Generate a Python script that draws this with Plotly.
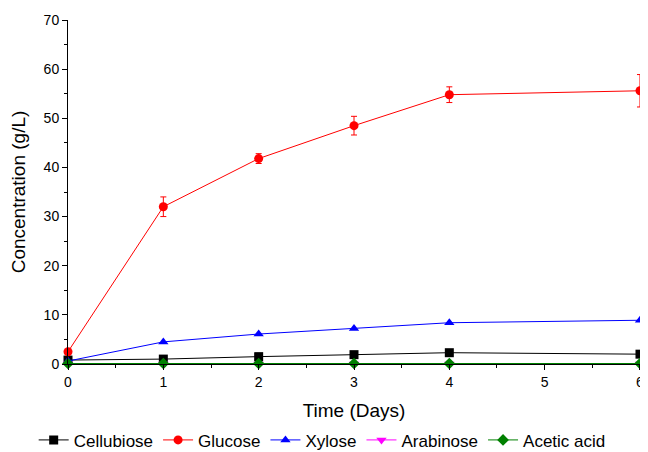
import plotly.graph_objects as go

days = [0, 1, 2, 3, 4, 6]
cellobiose = [0.8, 1.0, 1.5, 1.9, 2.3, 2.0]
glucose = [2.5, 32.0, 41.8, 48.5, 54.8, 55.6]
glucose_err = [0.3, 2.0, 1.0, 1.9, 1.6, 3.3]
xylose = [0.6, 4.5, 6.1, 7.2, 8.4, 8.9]
arabinose = [0.0, 0.0, 0.0, 0.0, 0.0, 0.0]
acetic = [0.1, 0.1, 0.1, 0.1, 0.1, 0.1]

fig = go.Figure()
series = [
    ("Cellubiose", cellobiose, "black", "square", None),
    ("Glucose", glucose, "red", "circle", glucose_err),
    ("Xylose", xylose, "blue", "triangle-up", None),
    ("Arabinose", arabinose, "magenta", "triangle-down", None),
    ("Acetic acid", acetic, "green", "diamond", None),
]
for name, vals, col, sym, err in series:
    fig.add_trace(go.Scatter(
        x=days, y=vals, name=name, mode="lines+markers",
        line=dict(color=col, width=1),
        marker=dict(symbol=sym, size=9, color=col),
        error_y=dict(type="data", array=err, color=col, thickness=1, width=3, visible=True) if err else None,
        cliponaxis=False,
    ))

# page body has an 8px default margin, so figure is 640x444 and offsets compensate
fig.update_layout(
    width=640, height=444,
    margin=dict(l=60, r=8, t=12, b=88, autoexpand=False),
    paper_bgcolor="white", plot_bgcolor="white",
    font=dict(family="Liberation Sans, Arial, sans-serif", color="black", size=14),
    showlegend=True,
    legend=dict(orientation="h", x=-0.06, xanchor="left", y=-0.222, yanchor="middle",
                font=dict(size=17), itemwidth=30, tracegroupgap=0),
    xaxis=dict(range=[0, 6.0001], tickvals=[0, 1, 2, 3, 4, 5, 6], showline=True, linecolor="black", linewidth=1,
               ticks="outside", ticklen=5, tickcolor="black", showgrid=False, zeroline=False,
               automargin=False,
               minor=dict(ticks="outside", tickvals=[0.5, 1.5, 2.5, 3.5, 4.5, 5.5], ticklen=3, tickcolor="black"),
               title=dict(text="Time (Days)", font=dict(size=19), standoff=14)),
    yaxis=dict(range=[0, 70], dtick=10, showline=True, linecolor="black", linewidth=1,
               ticks="outside", ticklen=5, tickcolor="black", showgrid=False, zeroline=False,
               automargin=False,
               minor=dict(ticks="outside", dtick=5, ticklen=3, tickcolor="black"),
               title=dict(text="Concentration (g/L)", font=dict(size=19), standoff=14)),
)
fig.write_html("out.html")
